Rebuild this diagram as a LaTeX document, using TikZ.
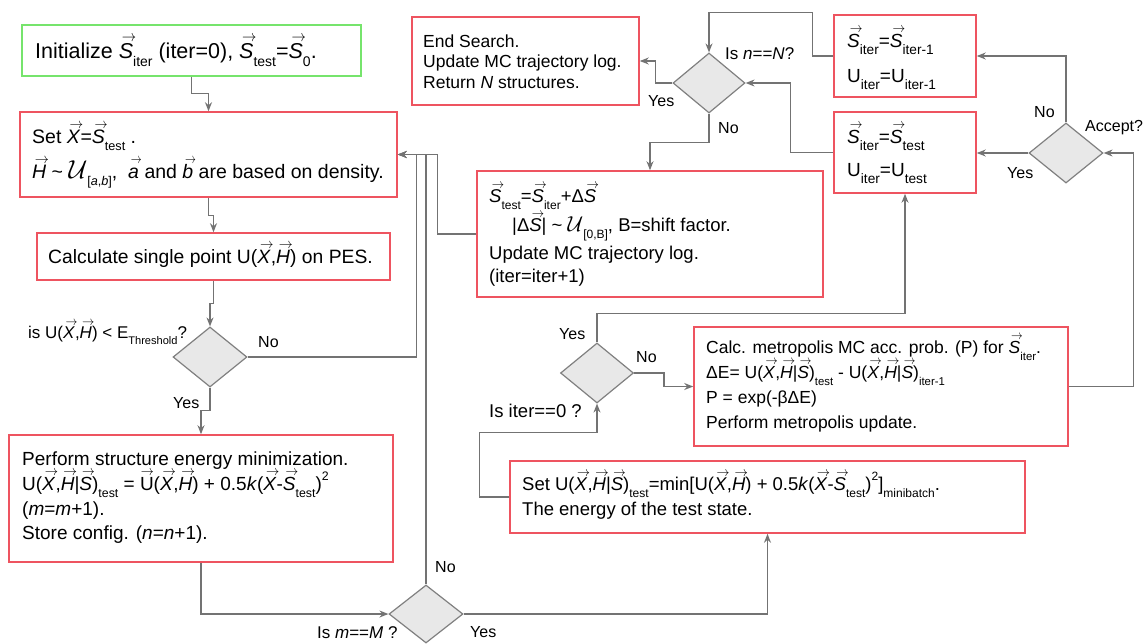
\documentclass[tikz,border=0pt]{standalone}
\usepackage{fontspec}
\setmainfont{Liberation Sans}
\usepackage{amsmath}
\usepackage{graphicx}
\usetikzlibrary{shapes.geometric,arrows.meta,calc}
\definecolor{boxred}{RGB}{238,84,96}
\definecolor{boxgreen}{RGB}{118,228,108}
\definecolor{linegray}{RGB}{115,115,115}
\definecolor{diagray}{RGB}{128,128,128}
\definecolor{diafill}{RGB}{232,232,232}
\newcommand{\fs}[1]{\fontsize{#1}{#1}\selectfont}
\newsavebox{\vecbx}
\newcommand{\vecarrow}[3]{\leavevmode\sbox{\vecbx}{#1}\rlap{\hbox to \wd\vecbx{\hskip#2\smash{\raisebox{0.75em}{\resizebox{\dimexpr\wd\vecbx+#3\relax}{0.27em}{$\rightarrow$}}}\hss}}\usebox{\vecbx}}
\newcommand{\V}[1]{\vecarrow{\textit{#1}}{0.14em}{0.0em}}
\newcommand{\Vu}[1]{\vecarrow{\textup{#1}}{0.04em}{-0.04em}}
\newcommand{\sbs}[2][0.65]{\smash{\raisebox{-0.4em}{\scalebox{#1}{#2}}}}
\newcommand{\sps}[1]{\smash{\raisebox{0.5em}{\scalebox{0.65}{#1}}}}
\newcommand{\UU}{\scalebox{1.25}{$\mathcal{U}$}}
\tikzset{
  rbox/.style={draw=boxred, line width=1.6pt, inner sep=0pt},
  gbox/.style={draw=boxgreen, line width=1.6pt, inner sep=0pt},
  dec/.style={diamond, draw=diagray, fill=diafill, line width=1.2pt, inner sep=0pt},
  conn/.style={draw=linegray, line width=1.3pt, -{Stealth[length=9pt,width=7pt,inset=3pt]}},
  txt/.style={anchor=base west, inner sep=0pt, font=\fs{18.5}},
  ttxt/.style={anchor=base west, inner sep=0pt, font=\fs{17.5}},
  btxt/.style={anchor=base west, inner sep=0pt, font=\fs{19}},
  lbl/.style={anchor=base west, inner sep=0pt, font=\fs{16}},
  qlbl/.style={anchor=base west, inner sep=0pt, font=\fs{17}},
}
\begin{document}
\begin{tikzpicture}[x=1pt,y=-1pt]
\fill[white] (0,0) rectangle (1143,643);
\useasboundingbox (0,0) rectangle (1143,643);

% ---------- boxes ----------
\node[gbox, minimum width=339, minimum height=51] (init) at (191.5,50.5) {};
\node[rbox, minimum width=377, minimum height=85] (setx) at (208.5,154.5) {};
\node[rbox, minimum width=353, minimum height=47] (calc) at (213.5,256.5) {};
\node[rbox, minimum width=384, minimum height=127] (perform) at (201,498.5) {};
\node[rbox, minimum width=515, minimum height=72] (min) at (767.5,497) {};
\node[rbox, minimum width=374, minimum height=119] (metro) at (881,386.5) {};
\node[rbox, minimum width=346, minimum height=126] (stest) at (650,234) {};
\node[rbox, minimum width=227, minimum height=88] (end) at (525.5,61) {};
\node[rbox, minimum width=142, minimum height=82] (sold) at (905,56) {};
\node[rbox, minimum width=142, minimum height=81] (snew) at (905,152.5) {};

% ---------- decisions ----------
\node[dec, minimum width=74, minimum height=60] (d1) at (210,357) {};
\node[dec, minimum width=74, minimum height=58] (dm) at (426,614) {};
\node[dec, minimum width=73, minimum height=60] (di) at (597,373) {};
\node[dec, minimum width=72, minimum height=60] (dn) at (709,83) {};
\node[dec, minimum width=74, minimum height=60] (da) at (1066,153) {};

% ---------- texts ----------
\node[anchor=base west, inner sep=0pt, font=\fs{21.5}] (t-init) at (35,58)
  {Initialize \V{S}\sbs{iter} (iter=0), \V{S}\sbs{test}=\V{S}\sbs{0}.};

\node[txt, font=\fs{19.5}] (t-setx1) at (32,143) {Set \V{X}=\V{S}\sbs{test} .};
\node[txt, font=\fs{19.5}] (t-setx2) at (32,178) {\V{H} \textasciitilde{} \UU\sbs{[\textit{a},\textit{b}]},\ \ \V{a} and \V{b} are based on density.};

\node[txt, font=\fs{19.3}] (t-calc) at (48,263) {Calculate single point U(\V{X},\V{H}) on PES.};

\node[qlbl] (t-d1) at (28,338) {is U(\V{X},\V{H}) < E\sbs{Threshold}?};
\node[lbl] (t-d1no) at (258,347) {No};
\node[lbl] (t-d1yes) at (173,408) {Yes};

\node[txt, font=\fs{19}] (t-perf1) at (22,465) {Perform structure energy minimization.};
\node[txt, font=\fs{19}] (t-perf2) at (22,490) {U(\V{X},\V{H}|\V{S})\sbs{test} = \Vu{U}(\V{X},\V{H}) + 0.5\textit{k}(\V{X}-\V{S}\sbs{test})\sps{2}};
\node[txt, font=\fs{19}] (t-perf3) at (22,515) {(\textit{m}=\textit{m}+1).};
\node[txt, font=\fs{19}] (t-perf4) at (22,539) {Store config. (\textit{n}=\textit{n}+1).};

\node[qlbl] (t-dm) at (317,638) {Is \textit{m}==\textit{M} ?};
\node[lbl] (t-dmno) at (435,572) {No};
\node[lbl] (t-dmyes) at (470,637) {Yes};

\node[txt] (t-min1) at (522,490) {Set U(\V{X},\V{H}|\V{S})\sbs{test}=min[U(\V{X},\V{H}) + 0.5\textit{k}(\V{X}-\V{S}\sbs{test})\sps{2}]\sbs{minibatch}.};
\node[txt] (t-min2) at (522,515) {The energy of the test state.};

\node[txt] (t-di) at (489,417) {Is iter==0 ?};
\node[lbl] (t-diyes) at (559,339) {Yes};
\node[lbl] (t-dino) at (636,362) {No};

\node[ttxt] (t-met1) at (706,353) {Calc. metropolis MC acc. prob. (P) for \V{S}\sbs{iter}.};
\node[ttxt] (t-met2) at (706,378) {ΔE= U(\V{X},\V{H}|\V{S})\sbs{test} - U(\V{X},\V{H}|\V{S})\sbs{iter-1}};
\node[ttxt] (t-met3) at (706,403) {P = exp(-βΔE)};
\node[ttxt] (t-met4) at (706,428) {Perform metropolis update.};

\node[txt] (t-st1) at (489,202) {\V{S}\sbs{test}=\V{S}\sbs{iter}+Δ\V{S}};
\node[txt] (t-st2) at (512,231) {|Δ\V{S}| \textasciitilde{} \UU\sbs{[0,B]}, B=shift factor.};
\node[txt] (t-st3) at (489,259) {Update MC trajectory log.};
\node[txt] (t-st4) at (489,282) {(iter=iter+1)};

\node[ttxt] (t-end1) at (423,47) {End Search.};
\node[ttxt] (t-end2) at (423,67.5) {Update MC trajectory log.};
\node[ttxt] (t-end3) at (423,88) {Return \textit{N} structures.};

\node[qlbl] (t-dn) at (725,59) {Is \textit{n}==\textit{N}?};
\node[lbl] (t-dnyes) at (648,106) {Yes};
\node[lbl] (t-dnno) at (718,133) {No};

\node[btxt] (t-so1) at (847,47) {\V{S}\sbs[0.72]{iter}=\V{S}\sbs[0.72]{iter-1}};
\node[btxt] (t-so2) at (847,82) {U\sbs[0.72]{iter}=U\sbs[0.72]{iter-1}};
\node[btxt] (t-sn1) at (847,143) {\V{S}\sbs[0.72]{iter}=\V{S}\sbs[0.72]{test}};
\node[btxt] (t-sn2) at (847,176) {U\sbs[0.72]{iter}=U\sbs[0.72]{test}};

\node[lbl] (t-acc) at (1085,131) {Accept?};
\node[lbl] (t-dano) at (1034,117) {No};
\node[lbl] (t-dayes) at (1007,178) {Yes};

% ---------- connectors ----------
\draw[conn] (init.south) -- ++(0,17) -| (setx.north);
\draw[conn] (setx.south) -- ++(0,18) -| (calc.north);
\draw[conn] (calc.south) -- ++(0,23) -| (d1.north);
\draw[conn] (d1.south) -- ++(0,23) -| (perform.north);
\draw[conn] (d1.east) -| ($(setx.east)+(19,0)$) -- (setx.east);
\draw[conn] (dm.north) |- (setx.east);
\draw[conn] (stest.west) -| ($(setx.east)+(40,0)$) -- (setx.east);
\draw[conn] (perform.south) |- (dm.west);
\draw[conn] (dm.east) -| (min.south);
\draw[conn] (min.west) -- ++(-30,0) |- ($(di.south)+(0,29)$) -- (di.south);
\draw[conn] (di.north) -- ++(0,-29) -| (snew.south);
\draw[conn] (di.east) -- ++(30,0) |- (metro.west);
\draw[conn] (metro.east) -- ++(65,0) |- (da.east);
\draw[conn] (da.north) |- (sold.east);
\draw[conn] (da.west) -- (da.west -| snew.east);
\draw[conn] (sold.west) -- ++(-21,0) |- ($(dn.north)+(0,-40)$) -- (dn.north);
\draw[conn] (snew.west) -- ++(-43,0) |- (dn.east);
\draw[conn] (dn.west) -- ++(-17,0) |- (end.east);
\draw[conn] (dn.south) -- ++(0,29) -| (stest.north);
\end{tikzpicture}
\end{document}
